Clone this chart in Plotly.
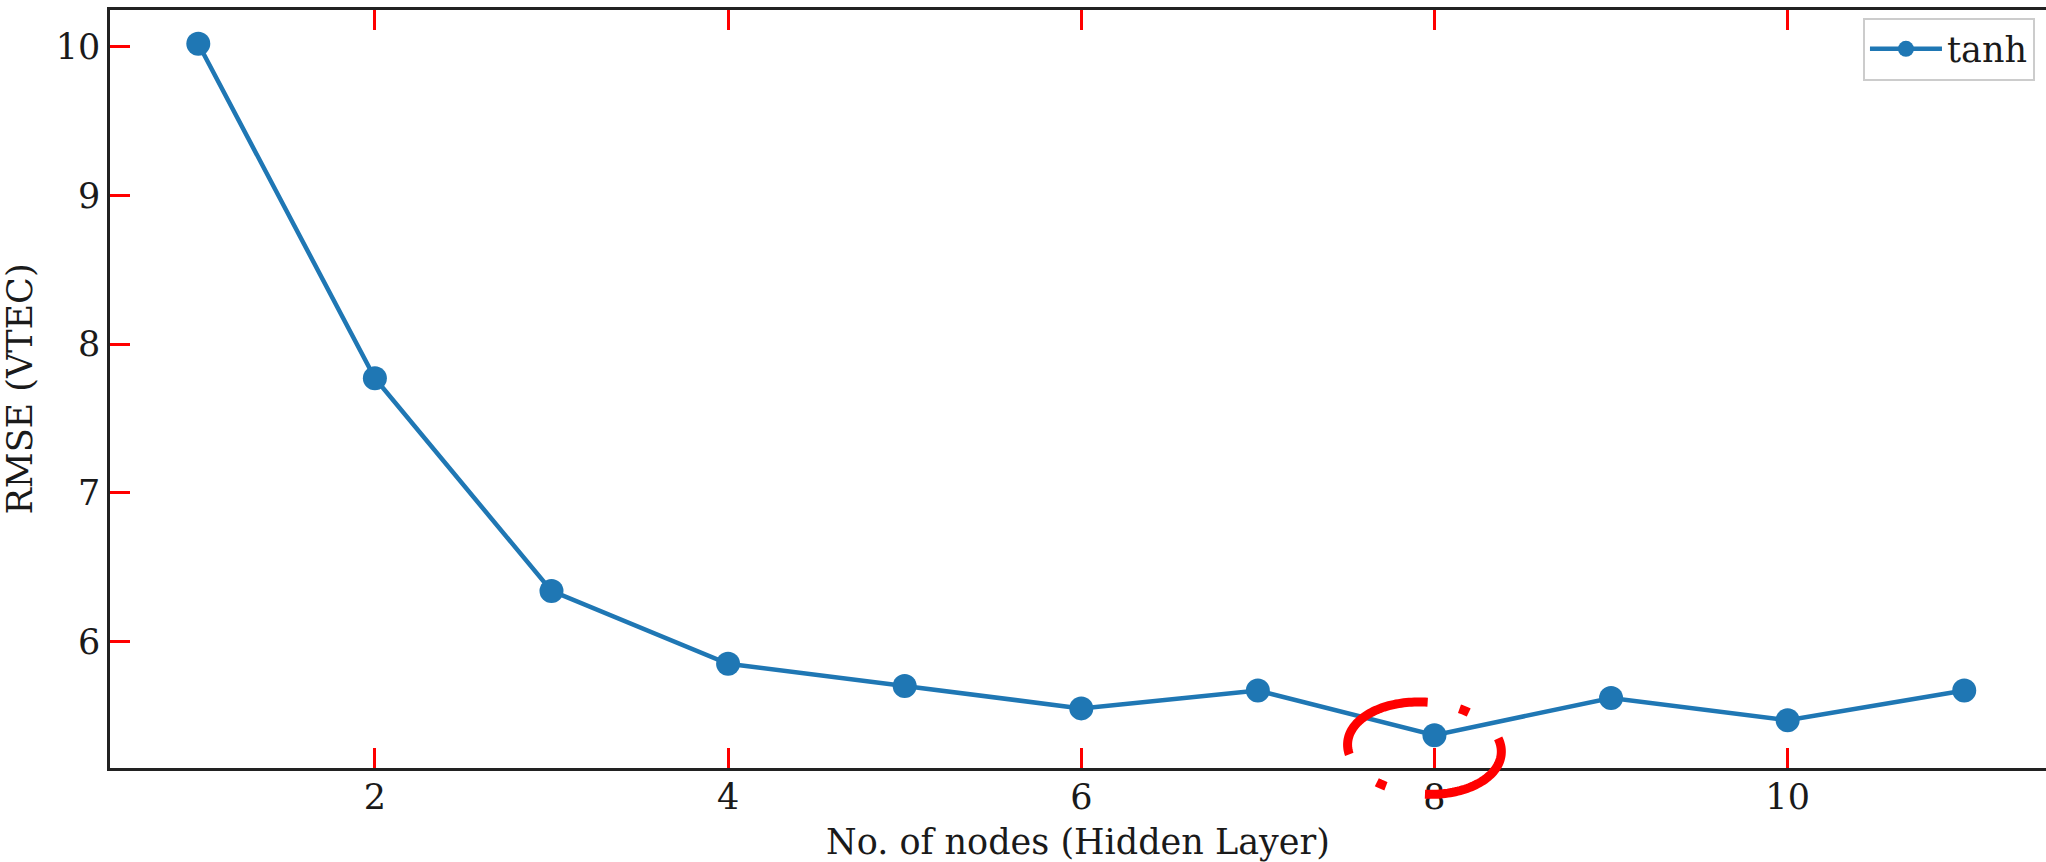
import numpy as np
import plotly.graph_objects as go

# RMSE of the tanh network against the number of hidden-layer nodes
nodes = [1, 2, 3, 4, 5, 6, 7, 8, 9, 10, 11]
rmse_tanh = [10.02, 7.77, 6.34, 5.85, 5.70, 5.55, 5.67, 5.37, 5.62, 5.47, 5.67]

x_ticks = [2, 4, 6, 8, 10]
y_ticks = [6, 7, 8, 9, 10]

# highlighted configuration (best RMSE)
best_nodes = 8

W, H = 2046, 862
M_L, M_R, M_T, M_B = 110, 0, 10, 94

x_range = [0.5, 11.463]
y_range = [5.149, 10.247]

BLUE = "#1f77b4"
FONT = "DejaVu Serif"
TXT = "#1a1a1a"
FS = 35

fig = go.Figure()
fig.add_trace(go.Scatter(
    x=nodes, y=rmse_tanh, mode="lines+markers", name="tanh",
    line=dict(color=BLUE, width=4.5),
    marker=dict(color=BLUE, size=24),
))

# dashed ellipse around the best point, offsets in pixels from that point
best_y = rmse_tanh[nodes.index(best_nodes)]
cx, cy = -10, -13          # centre shift (px)
a, b, rot = 77, 46, np.deg2rad(-4)
t = np.linspace(np.pi / 2, np.pi / 2 + 2 * np.pi, 181)
ex = a * np.cos(t)
ey = b * np.sin(t)
px = cx + ex * np.cos(rot) - ey * np.sin(rot)
py = cy + ex * np.sin(rot) + ey * np.cos(rot)
path = "M " + " L ".join(f"{u:.2f},{v:.2f}" for u, v in zip(px, py))

fig.add_shape(
    type="path", path=path,
    xref="paper", yref="paper",
    xsizemode="pixel", ysizemode="pixel",
    xanchor=(best_nodes - x_range[0]) / (x_range[1] - x_range[0]),
    yanchor=(best_y - y_range[0]) / (y_range[1] - y_range[0]),
    line=dict(color="#ff0000", width=9, dash="110px,40px,10px,40px"),
    layer="above",
)

axis_common = dict(
    ticks="inside", ticklen=20, tickwidth=2.5, tickcolor="#ff0000",
    showgrid=False, zeroline=False,
    showline=True, linecolor="#222222", linewidth=2.5,
    tickfont=dict(family=FONT, size=FS, color=TXT),
)

fig.update_layout(
    width=W, height=H,
    margin=dict(l=M_L, r=M_R, t=M_T, b=M_B, pad=0),
    paper_bgcolor="white", plot_bgcolor="white",
    showlegend=True,
    legend=dict(
        x=0.9943, y=0.99, xanchor="right", yanchor="top",
        bgcolor="white", bordercolor="#cccccc", borderwidth=2,
        itemwidth=72,
        font=dict(family=FONT, size=FS, color=TXT),
    ),
    xaxis=dict(
        range=x_range, tickvals=x_ticks, mirror="ticks",
        ticklabelstandoff=-4,
        title=dict(text="No. of nodes (Hidden Layer)", standoff=14,
                   font=dict(family=FONT, size=FS, color=TXT)),
        **axis_common,
    ),
    yaxis=dict(
        range=y_range, tickvals=y_ticks, mirror=False,
        title=dict(text="RMSE (VTEC)", standoff=16,
                   font=dict(family=FONT, size=FS, color=TXT)),
        **axis_common,
    ),
    yaxis2=dict(
        range=y_range, tickvals=y_ticks, overlaying="y", anchor="x", side="right",
        ticks="inside", ticklen=20, tickwidth=2.5, tickcolor="#ff0000",
        showticklabels=False, showgrid=False, zeroline=False, showline=False,
    ),
)

fig.write_html("out.html")
